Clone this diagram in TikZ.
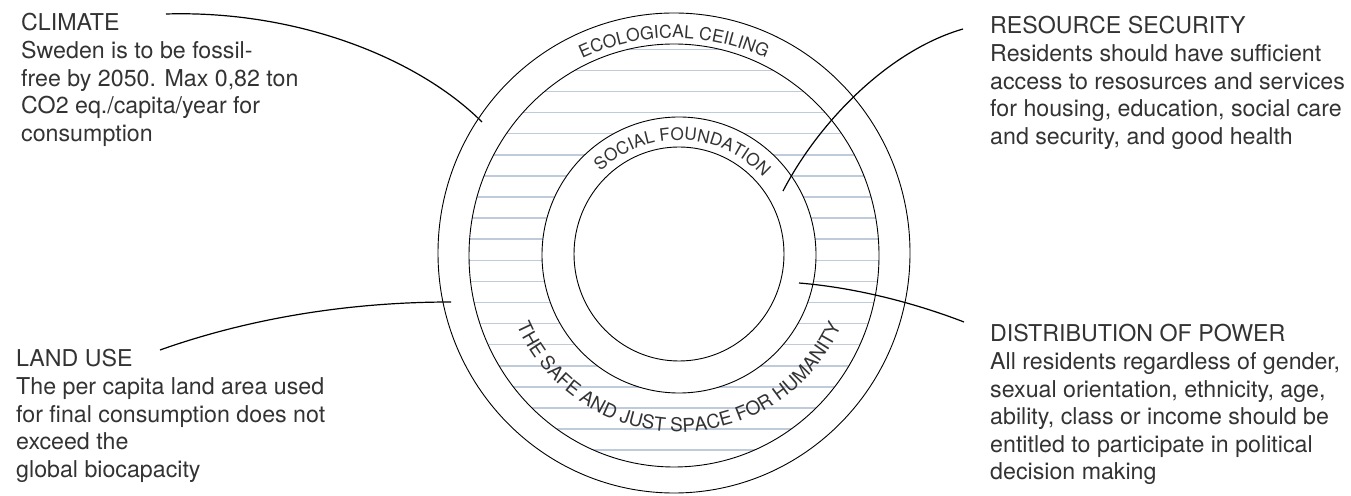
\documentclass[tikz,border=0pt]{standalone}
\usepackage{fontspec}
\setmainfont{TeX Gyre Heros}
\usetikzlibrary{decorations.text}
\definecolor{txt}{HTML}{333333}
\definecolor{hatchc}{HTML}{BFCADB}
\tikzset{
  ring/.style={draw=black, line width=0.9pt},
  hatchline/.style={draw=hatchc, line width=1.5pt},
  connector/.style={draw=black, line width=1.2pt},
  blocklabel/.style={anchor=base west, inner sep=0pt, text=txt, font=\fontsize{23.2}{27.6}\selectfont},
}
\newcommand{\blocktext}[1]{\parbox[t]{14cm}{\raggedright #1}}
\begin{document}
\begin{tikzpicture}[x=1pt,y=1pt]
\useasboundingbox (0,0) rectangle (1351,495);
% hatched band
\begin{scope}[even odd rule]
  \clip (674,239.5) ellipse [x radius=205pt, y radius=211.5pt]
        (679,240) ellipse [x radius=137pt, y radius=138pt];
  \foreach \k in {0,...,19}
    \draw[hatchline] (440,{445.7-21.1*\k}) -- (910,{445.7-21.1*\k});
\end{scope}
% rings
\draw[ring] (674,242) ellipse [x radius=236pt, y radius=240pt];
\draw[ring] (674,239.5) ellipse [x radius=205pt, y radius=211.5pt];
\draw[ring] (679,240) ellipse [x radius=137pt, y radius=138pt];
\draw[ring] (679,241) ellipse [x radius=105pt, y radius=107pt];
% curved labels
\path[decorate, decoration={text along path, text align=center,
  text={|\fontsize{17.6}{17.6}\selectfont\color{txt}|ECOLOGICAL CEILING}}]
  (674,241) ++(160:216pt) arc[start angle=160, end angle=20, radius=216pt];
\path[decorate, decoration={text along path, text align=center,
  text={|\fontsize{17.2}{17.2}\selectfont\color{txt}|SOCIAL FOUNDATION}}]
  (679,241) ++(178:114pt) arc[start angle=178, end angle=-2, radius=114pt];
\path[decorate, decoration={text along path, text align=center,
  text={|\fontsize{19}{19}\selectfont\color{txt}|THE SAFE AND JUST SPACE FOR HUMANITY}}]
  (679,240) ++(190:177pt) arc[start angle=190, end angle=350, radius=177pt];
% text blocks
\node[blocklabel] (climate) at (21,464) {\blocktext{CLIMATE\\Sweden is to be fossil-\\free by 2050. Max 0,82 ton\\CO2 eq./capita/year for\\consumption}};
\node[blocklabel] (landuse) at (16,128) {\blocktext{LAND USE\\The per capita land area used\\for final consumption does not\\exceed the\\global biocapacity}};
\node[blocklabel] (resource) at (990,461) {\blocktext{RESOURCE SECURITY\\Residents should have sufficient\\access to resosurces and services\\for housing, education, social care\\and security, and good health}};
\node[blocklabel] (power) at (990,153) {\blocktext{DISTRIBUTION OF POWER\\All residents regardless of gender,\\sexual orientation, ethnicity, age,\\ability, class or income should be\\entitled to participate in political\\decision making}};
% connector ends
\coordinate (climA) at (166,481);
\coordinate (climB) at (482,373);
\coordinate (landA) at (160,145);
\coordinate (landB) at (451,193);
\coordinate (resA) at (963,466);
\coordinate (resB) at (783,304);
\coordinate (powA) at (799,212);
\coordinate (powB) at (964,173);
\draw[connector] (climA) .. controls (300,485) and (420,435) .. (climB);
\draw[connector] (landA) .. controls (250,177) and (350,193) .. (landB);
\draw[connector] (resA) .. controls (890,445) and (820,375) .. (resB);
\draw[connector] (powA) .. controls (860,207) and (920,190) .. (powB);
\end{tikzpicture}
\end{document}
